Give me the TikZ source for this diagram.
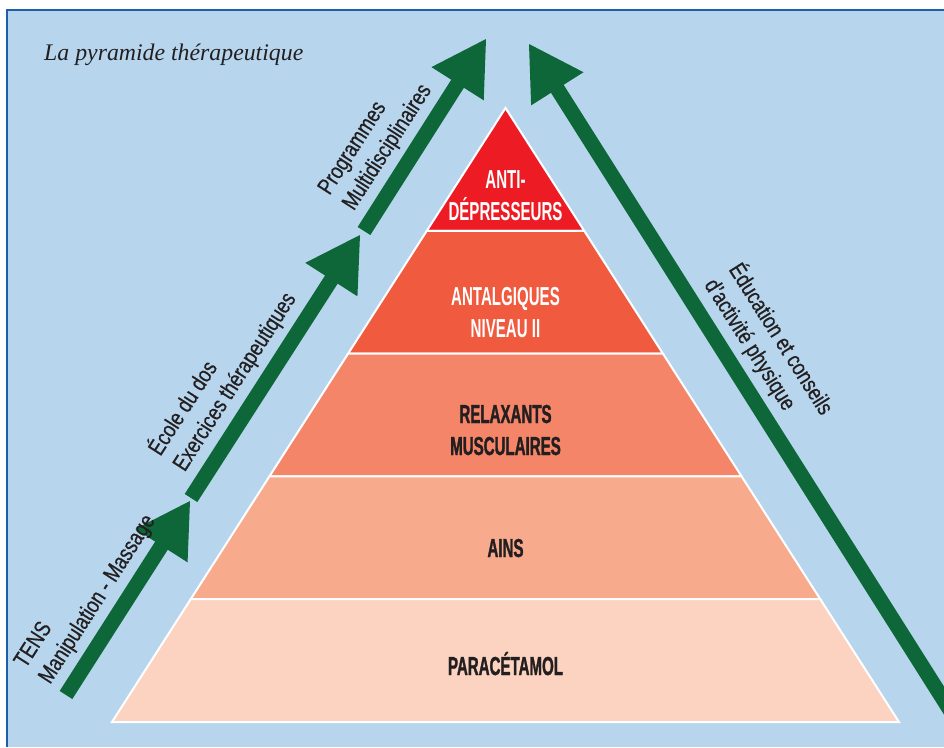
\documentclass[tikz,border=0pt]{standalone}
\usepackage{fontspec}
\usetikzlibrary{calc}
\newfontfamily\pyrfont[FakeStretch=0.58]{Liberation Sans}
\newfontfamily\pyrdarkfont[FakeStretch=0.58, FakeBold=1.2]{Liberation Sans Bold}
\newfontfamily\lblfont[FakeStretch=0.8, FakeBold=0.6]{Liberation Sans}
\newfontfamily\titlefont{Liberation Serif}
\definecolor{bgblue}{RGB}{183,214,238}
\definecolor{frameblue}{RGB}{30,95,170}
\definecolor{agreen}{RGB}{14,103,56}
\definecolor{lay1}{RGB}{237,28,36}
\definecolor{lay2}{RGB}{240,90,62}
\definecolor{lay3}{RGB}{244,133,104}
\definecolor{lay4}{RGB}{248,170,140}
\definecolor{lay5}{RGB}{252,211,192}
\definecolor{ink}{RGB}{35,31,32}
\tikzset{
  layer/.style={draw=white, line width=2pt, line join=miter},
  pyrwhite/.style={anchor=base, inner sep=0pt, text=white, font=\pyrfont\bfseries\fontsize{26}{30}\selectfont},
  pyrdark/.style={anchor=base, inner sep=0pt, text=ink, font=\pyrdarkfont\fontsize{26}{30}\selectfont},
  lbl/.style={anchor=base west, inner sep=0pt, text=ink, font=\lblfont\fontsize{23}{28}\selectfont},
  shaft/.style={draw=agreen, line width=15pt},
  head/.style={fill=agreen},
}
\newcommand{\GreenArrowDraw}[3]{%
  \coordinate (#1t) at #2;
  \coordinate (#1p) at #3;
  \coordinate (#1m) at ($(#1p)!53pt!(#1t)$);
  \coordinate (#1a) at ($(#1m)!31pt!90:(#1p)$);
  \coordinate (#1b) at ($(#1m)!31pt!-90:(#1p)$);
  \draw[shaft] (#1t) -- ($(#1m)!-3pt!(#1t)$);
  \fill[head] (#1p) -- (#1a) -- (#1b) -- cycle;
}
\begin{document}
\begin{tikzpicture}[x=1pt,y=-1pt]
\useasboundingbox (0,0) rectangle (944,747);
\clip (0,0) rectangle (944,747);
\fill[white] (0,0) rectangle (944,747);
\fill[bgblue] (7,10) rectangle (944,747);
\draw[frameblue, line width=1.5pt] (944,10) -- (7,10) -- (7,747);

\node[anchor=base west, inner sep=0pt, text=ink, font=\titlefont\itshape\fontsize{23.8}{28}\selectfont] (title) at (44,60) {La pyramide thérapeutique};

% pyramid
\coordinate (apex) at (505.5,108);
\coordinate (bl) at (112,722);
\coordinate (br) at (899,722);
\coordinate (l1) at ($(apex)!0.2!(bl)$);
\coordinate (l2) at ($(apex)!0.4!(bl)$);
\coordinate (l3) at ($(apex)!0.6!(bl)$);
\coordinate (l4) at ($(apex)!0.8!(bl)$);
\coordinate (r1) at ($(apex)!0.2!(br)$);
\coordinate (r2) at ($(apex)!0.4!(br)$);
\coordinate (r3) at ($(apex)!0.6!(br)$);
\coordinate (r4) at ($(apex)!0.8!(br)$);
\filldraw[layer, fill=lay1] (apex) -- (r1) -- (l1) -- cycle;
\filldraw[layer, fill=lay2] (l1) -- (r1) -- (r2) -- (l2) -- cycle;
\filldraw[layer, fill=lay3] (l2) -- (r2) -- (r3) -- (l3) -- cycle;
\filldraw[layer, fill=lay4] (l3) -- (r3) -- (r4) -- (l4) -- cycle;
\filldraw[layer, fill=lay5] (l4) -- (r4) -- (br) -- (bl) -- cycle;

\node[pyrwhite] (t1a) at (505.5,188) {ANTI-};
\node[pyrwhite] (t1b) at (505.5,220) {DÉPRESSEURS};
\node[pyrwhite] (t2a) at (505.5,305) {ANTALGIQUES};
\node[pyrwhite] (t2b) at (505.5,337) {NIVEAU II};
\node[pyrdark] (t3a) at (505.5,423) {RELAXANTS};
\node[pyrdark] (t3b) at (505.5,455) {MUSCULAIRES};
\node[pyrdark] (t4) at (505.5,557) {AINS};
\node[pyrdark] (t5) at (505.5,675) {PARACÉTAMOL};

% arrows
\GreenArrowDraw{aa}{(66,695)}{(190,501)}
\GreenArrowDraw{ab}{(191,498)}{(360,235)}
\GreenArrowDraw{ac}{(364,231)}{(486,39)}
\GreenArrowDraw{ad}{(962,729)}{(529,44)}

% arrow labels
\node[lbl, rotate=57.3] (la2) at (50,685) {Manipulation - Massage};
\node[lbl, rotate=57.3] (la1) at (25.6,669.2) {TENS};
\node[lbl, rotate=57.3] (lb2) at (184.7,472.6) {Exercices thérapeutiques};
\node[lbl, rotate=57.3] (lb1) at (160.3,457) {École du dos};
\node[lbl, rotate=57.3] (lc2) at (353.8,211.5) {Multidisciplinaires};
\node[lbl, rotate=57.3] (lc1) at (329.4,196) {Programmes};
\node[lbl, rotate=-57.7] (ld2) at (703.7,284.8) {d’activité physique};
\node[lbl, rotate=-57.7] (ld1) at (728.2,269.3) {Éducation et conseils};
\end{tikzpicture}
\end{document}
